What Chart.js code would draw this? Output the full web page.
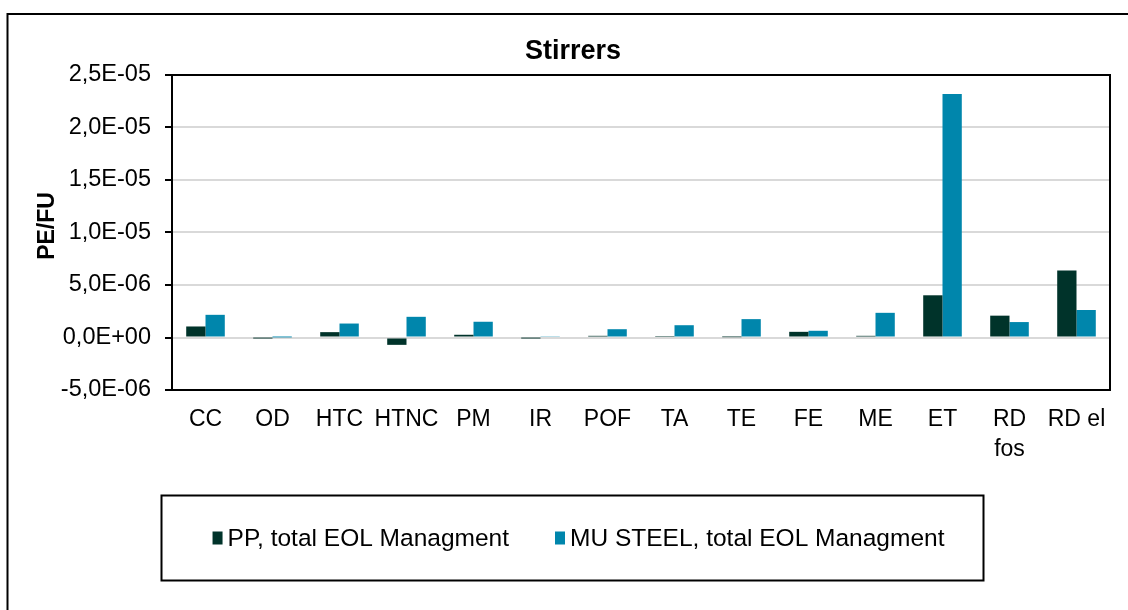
<!DOCTYPE html>
<html>
<head>
<meta charset="utf-8">
<script src="https://cdn.jsdelivr.net/npm/chart.js@4.4.1/dist/chart.umd.min.js"></script>
<style>
  html, body { margin: 0; padding: 0; background: #ffffff; }
  #wrap { position: relative; width: 1128px; height: 610px; overflow: hidden; }
  canvas { display: block; }
</style>
</head>
<body>
<div id="wrap"><canvas id="chart" width="1128" height="610"></canvas></div>
<script>
// Impact categories on the x axis
const categories = ['CC', 'OD', 'HTC', 'HTNC', 'PM', 'IR', 'POF', 'TA', 'TE', 'FE', 'ME', 'ET', ['RD', 'fos'], 'RD el'];

// Normalised results (PE per functional unit)
const ppValues = [1.05e-6, -1e-8, 5.1e-7, -7.0e-7, 2.6e-7, -1e-8, 1.6e-7, 5e-8, 3e-8, 5.4e-7, 1.6e-7, 4.02e-6, 2.08e-6, 6.38e-6];
const steelValues = [2.16e-6, 1e-8, 1.33e-6, 1.97e-6, 1.5e-6, 7e-8, 7.9e-7, 1.17e-6, 1.75e-6, 6.4e-7, 2.35e-6, 2.32e-5, 1.47e-6, 2.62e-6];

const seriesLabels = ['PP, total EOL Managment', 'MU STEEL, total EOL Managment'];
const seriesColors = ['#00332a', '#0086ac'];

const chartTitle = 'Stirrers';
const yAxisTitle = 'PE/FU';

// Y axis range and tick step
const yMin = -5e-6;
const yMax = 2.5e-5;
const yStep = 5e-6;

const FONT = '"Liberation Sans", Arial, sans-serif';

// "2,5E-05" style scientific labels with a decimal comma
function sciLabel(v) {
  if (Math.abs(v) < 1e-12) v = 0;
  const parts = v.toExponential(1).split('e');
  const mant = parts[0].replace('.', ',');
  const exp = parseInt(parts[1], 10);
  const sign = exp < 0 ? '-' : '+';
  const digits = String(Math.abs(exp)).padStart(2, '0');
  return mant + 'E' + sign + digits;
}

// Frame, title, y-axis title, plot border and boxed legend
const decorations = {
  id: 'decorations',
  afterDraw(chart) {
    const ctx = chart.ctx;
    const area = chart.chartArea;
    ctx.save();

    // outer frame (runs off the right and bottom edges)
    ctx.strokeStyle = '#000000';
    ctx.lineWidth = 2;
    ctx.beginPath();
    ctx.moveTo(7.5, 640);
    ctx.lineTo(7.5, 14);
    ctx.lineTo(1160, 14);
    ctx.stroke();

    // plot-area border
    ctx.beginPath();
    ctx.moveTo(area.left, area.top);
    ctx.lineTo(area.right, area.top);
    ctx.lineTo(area.right, area.bottom);
    ctx.stroke();

    // title
    ctx.fillStyle = '#000000';
    ctx.font = 'bold 27px ' + FONT;
    ctx.textAlign = 'center';
    ctx.textBaseline = 'middle';
    ctx.fillText(chartTitle, 573, 52);

    // y axis title
    ctx.save();
    ctx.translate(48, 226);
    ctx.rotate(-Math.PI / 2);
    ctx.font = 'bold 23px ' + FONT;
    ctx.fillText(yAxisTitle, 0, 0);
    ctx.restore();

    // legend box
    const box = { x: 161.5, y: 495.5, w: 822, h: 85 };
    ctx.lineWidth = 2;
    ctx.strokeStyle = '#000000';
    ctx.strokeRect(box.x, box.y, box.w, box.h);

    ctx.font = '24.5px ' + FONT;
    const marker = 10, markerGap = 5, itemGap = 46;
    const items = chart.data.datasets.map(d => ({
      label: d.label, color: d.backgroundColor, w: ctx.measureText(d.label).width
    }));
    let total = 0;
    items.forEach((it, i) => { total += marker + markerGap + it.w + (i ? itemGap : 0); });
    let x = box.x + box.w / 2 - total / 2 + 6;
    const cy = box.y + box.h / 2;
    ctx.textAlign = 'left';
    items.forEach(it => {
      ctx.fillStyle = it.color;
      ctx.fillRect(x, cy - 6.5, marker, 13);
      x += marker + markerGap;
      ctx.fillStyle = '#000000';
      ctx.fillText(it.label, x, cy + 1);
      x += it.w + itemGap;
    });
    ctx.restore();
  }
};

new Chart(document.getElementById('chart'), {
  type: 'bar',
  data: {
    labels: categories,
    datasets: [
      { label: seriesLabels[0], data: ppValues, backgroundColor: seriesColors[0], borderWidth: 0 },
      { label: seriesLabels[1], data: steelValues, backgroundColor: seriesColors[1], borderWidth: 0 }
    ]
  },
  options: {
    responsive: false,
    animation: false,
    devicePixelRatio: 1,
    layout: { padding: { left: 0, top: 75, right: 18, bottom: 140 } },
    datasets: { bar: { categoryPercentage: 0.576, barPercentage: 1.0 } },
    plugins: {
      legend: { display: false },
      title: { display: false },
      tooltip: { enabled: false }
    },
    scales: {
      x: {
        grid: { display: false, drawTicks: false },
        border: { display: true, color: '#000000', width: 2 },
        ticks: {
          color: '#000000',
          padding: 15,
          maxRotation: 0,
          autoSkip: false,
          font: { family: FONT, size: 23, lineHeight: 1.3 }
        },
        afterFit(scale) { scale.height = 80; }
      },
      y: {
        min: yMin,
        max: yMax,
        grid: {
          color: '#d9d9d9',
          lineWidth: 2,
          drawTicks: true,
          tickLength: 7,
          tickColor: '#000000',
          tickWidth: 2
        },
        border: { display: true, color: '#000000', width: 2 },
        ticks: {
          stepSize: yStep,
          color: '#000000',
          padding: 14,
          font: { family: FONT, size: 23.5 },
          callback: (v) => sciLabel(v)
        },
        afterFit(scale) { scale.width = 172; }
      }
    }
  },
  plugins: [decorations]
});
</script>
</body>
</html>
